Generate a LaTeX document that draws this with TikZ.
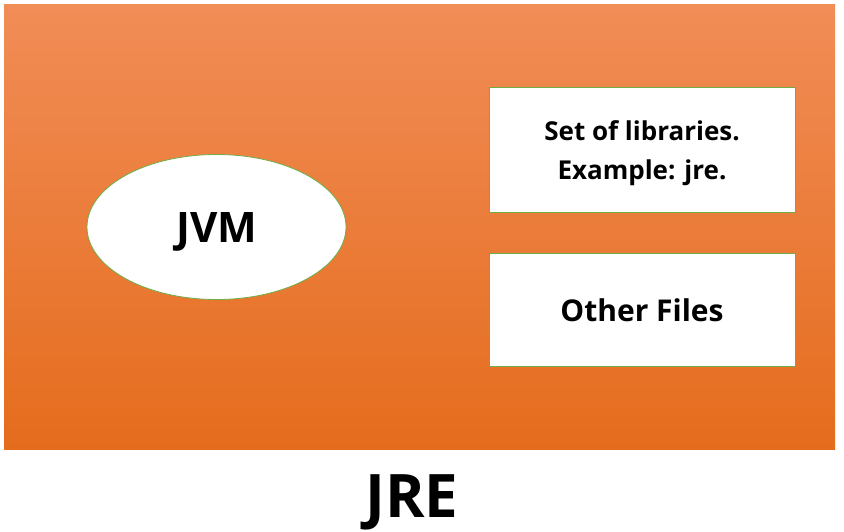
\documentclass[tikz,border=0pt]{standalone}
\usepackage{fontspec}
\setmainfont{Open Sans}
\usetikzlibrary{shapes.geometric}
\definecolor{orTop}{HTML}{F18D57}
\definecolor{orBot}{HTML}{E56C1D}
\definecolor{edgeGreen}{HTML}{70AD47}
\tikzset{
  whitebox/.style={draw=edgeGreen, line width=0.8pt, fill=white, inner sep=0pt},
  boxtext/.style={align=center, inner sep=0pt, font=\bfseries\fontsize{26}{39}\selectfont},
}
\begin{document}
\begin{tikzpicture}[x=1pt,y=-1pt]
\useasboundingbox (0,0) rectangle (844,531);
\fill[white] (0,0) rectangle (844,531);
\shade[top color=orTop, bottom color=orBot] (4,4) rectangle (835,449);
\node[whitebox, ellipse, minimum width=259pt, minimum height=145pt] (jvm) at (216.5,227) {};
\node[boxtext, font=\bfseries\fontsize{42}{48}\selectfont] (jvmtext) at ([yshift=-5pt]jvm.center) {JVM};
\node[whitebox, minimum width=306pt, minimum height=125pt] (lib) at (642,149.5) {};
\node[boxtext] (libtext) at ([yshift=-4pt]lib.center) {Set of libraries.\\Example: jre.};
\node[whitebox, minimum width=306pt, minimum height=113pt] (other) at (642,309.5) {};
\node[boxtext, font=\bfseries\fontsize{30}{36}\selectfont] (othertext) at ([yshift=-1pt]other.center) {Other Files};
\node[inner sep=0pt, font=\bfseries\fontsize{60}{70}\selectfont] (jre) at (412,502) {JRE};
\end{tikzpicture}
\end{document}
